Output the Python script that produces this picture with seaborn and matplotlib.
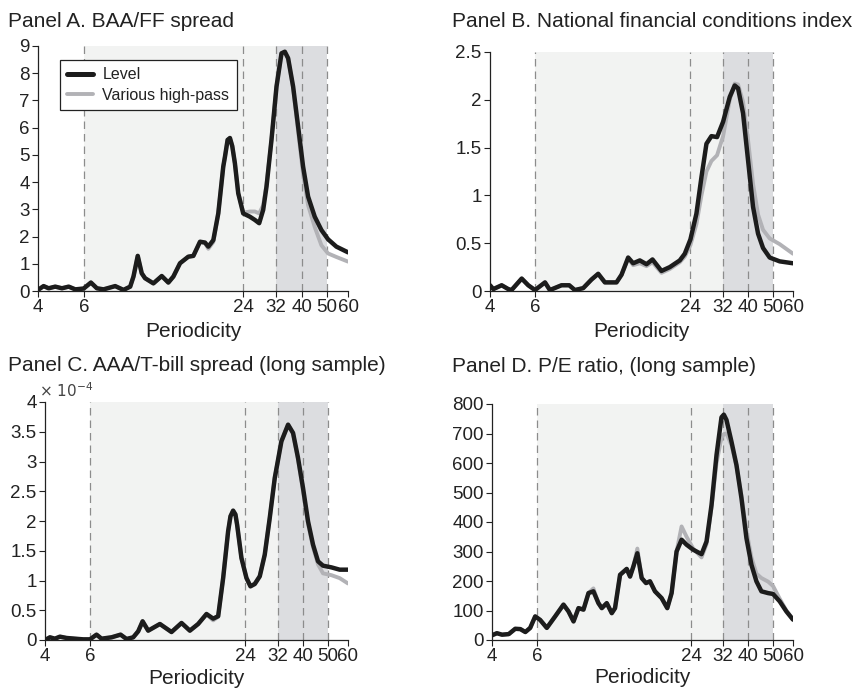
import numpy as np
import pandas as pd
import matplotlib
matplotlib.use("Agg")
import matplotlib.pyplot as plt
import seaborn as sns
from matplotlib.ticker import FixedLocator, NullLocator, FuncFormatter
from matplotlib.lines import Line2D

# ---------------- data ----------------
# Panel A: BAA/FF spread
period_a = [4.00, 4.20, 4.39, 4.65, 4.93, 5.23, 5.54, 5.96, 6.35, 6.69,
            7.09, 7.85, 8.44, 8.95, 9.21, 9.56, 9.90, 10.19, 10.96, 11.79,
            12.49, 13.05, 13.83, 14.87, 15.54, 16.47, 17.20, 17.71, 18.50, 19.32,
            20.18, 20.48, 20.96, 21.39, 21.83, 22.34, 23.00, 24.02, 25.46, 26.60,
            27.62, 28.60, 29.44, 30.75, 32.13, 33.56, 34.55, 35.56, 37.15, 38.81,
            40.53, 42.34, 44.87, 47.56, 50.40, 54.20, 60.00]
level_a = [0.04, 0.18, 0.10, 0.16, 0.10, 0.16, 0.06, 0.09, 0.31, 0.10,
           0.06, 0.18, 0.04, 0.16, 0.53, 1.29, 0.65, 0.47, 0.28, 0.55,
           0.31, 0.53, 1.02, 1.26, 1.29, 1.81, 1.78, 1.63, 1.87, 2.85,
           4.57, 4.93, 5.55, 5.62, 5.32, 4.69, 3.59, 2.85, 2.73, 2.61,
           2.49, 2.98, 3.83, 5.55, 7.51, 8.73, 8.79, 8.55, 7.51, 6.04,
           4.57, 3.47, 2.73, 2.24, 1.90, 1.63, 1.42]
hp_a = [0.04, 0.18, 0.10, 0.16, 0.10, 0.16, 0.06, 0.09, 0.31, 0.10,
        0.06, 0.18, 0.04, 0.16, 0.53, 1.29, 0.65, 0.47, 0.28, 0.55,
        0.31, 0.53, 1.02, 1.26, 1.29, 1.81, 1.76, 1.55, 1.80, 2.85,
        4.57, 4.93, 5.55, 5.62, 5.32, 4.69, 3.59, 2.88, 2.92, 2.92,
        2.85, 3.15, 3.90, 5.55, 7.51, 8.73, 8.79, 8.55, 7.45, 5.85,
        4.30, 3.15, 2.35, 1.68, 1.38, 1.25, 1.08]

# Panel B: National financial conditions index
period_b = [4.00, 4.12, 4.44, 4.71, 4.85, 5.31, 5.63, 5.98, 6.54, 6.83,
            7.58, 8.12, 8.54, 9.20, 9.91, 10.52, 11.17, 12.39, 12.96, 13.75,
            14.38, 15.26, 16.20, 17.09, 18.52, 19.95, 21.81, 22.81, 23.99, 25.31,
            26.47, 27.68, 28.94, 30.44, 32.12, 34.09, 35.64, 36.72, 38.39, 40.14,
            41.98, 43.90, 45.90, 48.71, 53.26, 60.00]
level_b = [0.06, 0.02, 0.06, 0.02, 0.01, 0.13, 0.06, 0.01, 0.09, 0.01,
           0.06, 0.06, 0.01, 0.03, 0.12, 0.18, 0.09, 0.09, 0.17, 0.35,
           0.29, 0.32, 0.28, 0.33, 0.21, 0.25, 0.32, 0.39, 0.54, 0.81,
           1.19, 1.54, 1.62, 1.61, 1.77, 2.03, 2.15, 2.12, 1.86, 1.37,
           0.88, 0.60, 0.45, 0.35, 0.31, 0.29]
hp_b = [0.06, 0.02, 0.06, 0.02, 0.01, 0.13, 0.06, 0.01, 0.09, 0.01,
        0.06, 0.06, 0.01, 0.03, 0.12, 0.18, 0.09, 0.09, 0.17, 0.34,
        0.27, 0.29, 0.26, 0.30, 0.19, 0.23, 0.30, 0.36, 0.48, 0.70,
        1.00, 1.25, 1.36, 1.42, 1.62, 2.00, 2.17, 2.16, 1.98, 1.58,
        1.12, 0.80, 0.64, 0.55, 0.49, 0.39]

# Panel C: AAA/T-bill spread (long sample), units of 1e-4
period_c = [4.00, 4.18, 4.37, 4.57, 4.85, 5.23, 5.63, 5.98, 6.34, 6.63,
            7.25, 7.86, 8.29, 8.80, 9.20, 9.57, 10.06, 11.17, 12.39, 13.55,
            14.60, 15.72, 16.94, 17.98, 18.80, 19.66, 20.55, 20.99, 21.49, 21.94,
            22.27, 23.15, 24.21, 25.09, 26.08, 27.27, 28.51, 29.81, 31.18, 33.09,
            35.12, 36.72, 38.39, 40.14, 41.98, 43.90, 45.90, 47.99, 51.70, 55.69,
            60.00]
level_c = [0.000, 0.045, 0.022, 0.056, 0.034, 0.022, 0.011, 0.011, 0.090, 0.022,
           0.045, 0.090, 0.017, 0.045, 0.146, 0.314, 0.157, 0.269, 0.134, 0.286,
           0.157, 0.269, 0.437, 0.359, 0.400, 1.042, 1.826, 2.080, 2.174, 2.110,
           1.938, 1.378, 1.042, 0.902, 0.941, 1.070, 1.434, 2.050, 2.723, 3.339,
           3.619, 3.479, 3.059, 2.555, 1.994, 1.602, 1.322, 1.249, 1.221, 1.182,
           1.182]
hp_c = [0.000, 0.045, 0.022, 0.056, 0.034, 0.022, 0.011, 0.011, 0.090, 0.022,
        0.045, 0.090, 0.017, 0.045, 0.146, 0.314, 0.157, 0.269, 0.134, 0.286,
        0.157, 0.269, 0.430, 0.330, 0.390, 1.042, 1.826, 2.080, 2.174, 2.110,
        1.938, 1.378, 1.042, 0.902, 0.950, 1.080, 1.434, 2.050, 2.723, 3.339,
        3.619, 3.470, 3.030, 2.500, 1.950, 1.560, 1.270, 1.120, 1.090, 1.040,
        0.950]

# Panel D: P/E ratio (long sample)
period_d = [4.00, 4.18, 4.38, 4.65, 4.93, 5.16, 5.40, 5.64, 5.90, 6.17,
            6.55, 7.06, 7.61, 7.96, 8.33, 8.71, 9.11, 9.53, 9.96, 10.42,
            10.74, 11.23, 11.75, 12.10, 12.66, 13.44, 13.85, 14.27, 14.79, 15.38,
            15.99, 16.57, 17.33, 18.40, 19.36, 20.13, 21.05, 22.02, 23.03, 24.45,
            26.35, 27.56, 28.83, 30.15, 31.53, 32.20, 32.98, 34.50, 36.08, 37.73,
            39.47, 41.28, 43.17, 45.16, 47.94, 50.14, 53.23, 56.51, 60.00]
level_d = [16, 23, 18, 20, 38, 37, 27, 41, 80, 68,
           41, 80, 120, 97, 63, 108, 103, 159, 165, 125,
           108, 125, 91, 108, 221, 241, 215, 249, 294, 210,
           193, 199, 165, 142, 108, 159, 300, 340, 323, 306,
           291, 334, 458, 627, 755, 764, 746, 672, 593, 481,
           345, 255, 199, 165, 159, 156, 131, 97, 69]
hp_d = [16, 23, 18, 20, 38, 37, 27, 41, 80, 68,
        41, 80, 120, 97, 63, 108, 103, 159, 175, 125,
        108, 125, 91, 108, 221, 241, 215, 249, 310, 210,
        193, 199, 165, 142, 108, 159, 300, 385, 350, 310,
        280, 325, 450, 600, 685, 698, 700, 660, 590, 490,
        370, 280, 225, 210, 198, 183, 140, 100, 70]

titles = ["Panel A. BAA/FF spread",
          "Panel B. National financial conditions index",
          "Panel C. AAA/T-bill spread (long sample)",
          "Panel D. P/E ratio, (long sample)"]
x_ticks = [4, 6, 24, 32, 40, 50, 60]
band_lines = [6, 24, 32, 40, 50]

# ---------------- style ----------------
sns.set_style("ticks")
plt.rcParams["font.family"] = ["Liberation Sans", "DejaVu Sans"]
plt.rcParams["axes.edgecolor"] = "#222222"
plt.rcParams["xtick.color"] = "#222222"
plt.rcParams["ytick.color"] = "#222222"
plt.rcParams["text.color"] = "#222222"
plt.rcParams["axes.labelcolor"] = "#222222"

W, H = 861, 690
fig = plt.figure(figsize=(W / 100, H / 100), dpi=100)


def px_axes(left, top, right, bottom):
    return fig.add_axes([left / W, 1 - bottom / H, (right - left) / W, (bottom - top) / H])


# xlabel placement: (axes-fraction y, vertical alignment)
panels = [
    dict(rect=(38, 46, 348, 291), x=period_a, lv=level_a, hp=hp_a, scale=1.0,
         ylim=(0, 9), yt=np.arange(0, 10, 1), title_xy=(8, 27), xl=(-0.128, "top")),
    dict(rect=(490, 52, 793, 291), x=period_b, lv=level_b, hp=hp_b, scale=1.0,
         ylim=(0, 2.5), yt=np.arange(0, 2.51, 0.5), title_xy=(452, 27), xl=(-0.13, "top")),
    dict(rect=(45, 402, 348, 640), x=period_c, lv=level_c, hp=hp_c, scale=1e-4,
         ylim=(0, 4e-4), yt=np.arange(0, 4.01, 0.5) * 1e-4, title_xy=(8, 371),
         xl=(-0.2, "bottom")),
    dict(rect=(492, 404, 793, 640), x=period_d, lv=level_d, hp=hp_d, scale=1.0,
         ylim=(0, 800), yt=np.arange(0, 801, 100), title_xy=(452, 372),
         xl=(-0.2, "bottom")),
]

black = "#1c1c1c"
grey = "#b2b2b6"
line_kw = dict(solid_joinstyle="round", solid_capstyle="round")

for i, p in enumerate(panels):
    ax = px_axes(*p["rect"])
    ax.set_xscale("log")
    ax.set_xlim(4, 60)
    ax.set_ylim(*p["ylim"])

    ax.axvspan(6, 32, color="#f2f3f2", zorder=0, lw=0)
    ax.axvspan(32, 50, color="#dcdde0", zorder=0, lw=0)
    for v in band_lines:
        ax.axvline(v, color="#8c8c8c", lw=0.9, ls=(0, (6, 4)), zorder=1)

    df = pd.DataFrame({
        "Periodicity": p["x"],
        "Level": np.asarray(p["lv"], dtype=float) * p["scale"],
        "Various high-pass": np.asarray(p["hp"], dtype=float) * p["scale"],
    })
    sns.lineplot(data=df, x="Periodicity", y="Various high-pass", ax=ax,
                 color=grey, lw=2.8, zorder=2, **line_kw)
    sns.lineplot(data=df, x="Periodicity", y="Level", ax=ax,
                 color=black, lw=3.2, zorder=3, **line_kw)

    ax.xaxis.set_major_locator(FixedLocator(x_ticks))
    ax.xaxis.set_minor_locator(NullLocator())
    ax.xaxis.set_major_formatter(FuncFormatter(lambda v, pos: f"{v:g}"))
    ax.yaxis.set_major_locator(FixedLocator(p["yt"]))
    sc = p["scale"]
    ax.yaxis.set_major_formatter(FuncFormatter(lambda v, pos, s=sc: f"{round(v / s, 6):g}"))
    ax.tick_params(axis="both", labelsize=13.5, length=4, width=0.8, pad=2,
                   direction="out")

    ax.set_ylabel("")
    yl, va = p["xl"]
    ax.set_xlabel("Periodicity", fontsize=15, va=va)
    ax.xaxis.set_label_coords(0.5, yl)
    sns.despine(ax=ax)
    for s in ("left", "bottom"):
        ax.spines[s].set_linewidth(0.9)

    tx, ty = p["title_xy"]
    fig.text(tx / W, 1 - ty / H, titles[i], fontsize=15, va="baseline", ha="left")

    if i == 2:
        ax.text(-0.02, 1.008, r"$\times\ 10^{-4}$", transform=ax.transAxes,
                fontsize=11, ha="left", va="bottom", color="#444444")

    if i == 0:
        handles = [Line2D([], [], color=black, lw=3.6, label="Level"),
                   Line2D([], [], color=grey, lw=2.8, label="Various high-pass")]
        leg = ax.legend(handles=handles, loc="upper left",
                        bbox_to_anchor=(0.071, 0.943), borderaxespad=0,
                        fontsize=11.5, frameon=True, fancybox=False,
                        framealpha=1, edgecolor="#222222", handlelength=1.6,
                        borderpad=0.45, labelspacing=0.35, handletextpad=0.6)
        leg.get_frame().set_linewidth(0.9)
    else:
        if ax.get_legend() is not None:
            ax.get_legend().remove()

fig.savefig("out.png", dpi=100)
